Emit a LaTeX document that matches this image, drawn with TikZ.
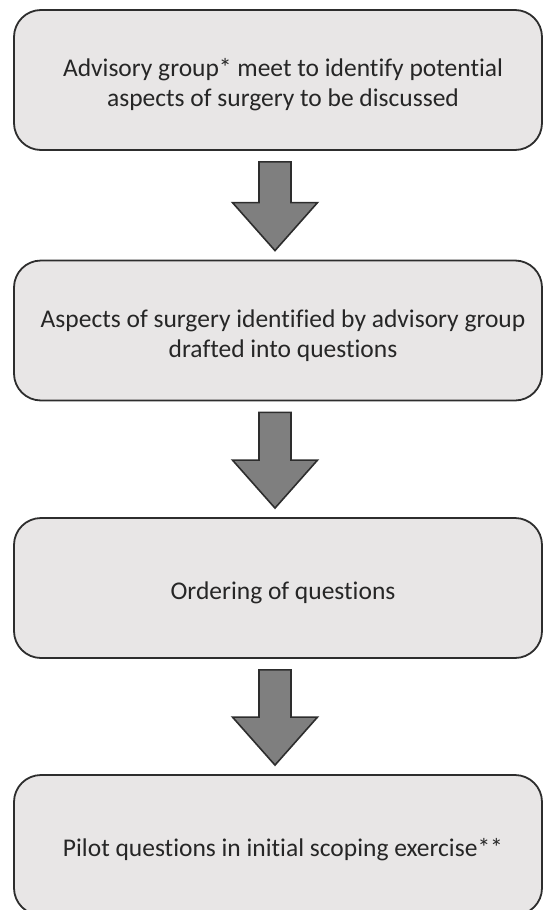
\documentclass[tikz,border=0pt]{standalone}
\usepackage{fontspec}
\setmainfont{Carlito}[Ligatures={NoCommon}]
\usetikzlibrary{calc}
\definecolor{boxgrey}{RGB}{232,230,230}
\definecolor{edgegrey}{RGB}{45,45,45}
\definecolor{arrowgrey}{RGB}{127,127,127}
\begin{document}
\begin{tikzpicture}[x=1pt,y=1pt,
    stepbox/.style={draw=edgegrey,line width=1.8pt,fill=boxgrey,rounded corners=27pt,
      minimum width=528pt,minimum height=140pt},
    steptext/.style={align=center,text=black!85,xshift=5pt,yshift=-5pt,
      font=\fontsize{25.5}{30}\selectfont},
    bigarrow/.style={draw=edgegrey,line width=1.6pt,fill=arrowgrey,line join=miter}]
        \useasboundingbox (0,0) rectangle (544,-910);
        \node[stepbox] (b1) at (278,-80) {};
        \node[stepbox] (b2) at (278,-330.5) {};
        \node[stepbox] (b3) at (278,-588) {};
        \node[stepbox] (b4) at (278,-845) {};
        %%
        \node[steptext] (t1) at (b1) {Advisory group* meet to identify potential\\aspects of surgery to be discussed};
        \node[steptext] (t2) at (b2) {Aspects of surgery identified by advisory group\\drafted into questions};
        \node[steptext] (t3) at (b3) {Ordering of questions};
        \node[steptext] (t4) at (b4) {Pilot questions in initial scoping exercise**};
        %%
        \foreach \a/\b in {b1/b2,b2/b3,b3/b4}
          \draw[bigarrow] ($(\a.south)+(-19,-11)$) -- ($(\a.south)+(13,-11)$)
            -- ($(\b.north)+(13,57)$) -- ($(\b.north)+(39.5,57)$) -- ($(\b.north)+(-3,9)$)
            -- ($(\b.north)+(-45.5,57)$) -- ($(\b.north)+(-19,57)$) -- cycle;
      \end{tikzpicture}
\end{document}
